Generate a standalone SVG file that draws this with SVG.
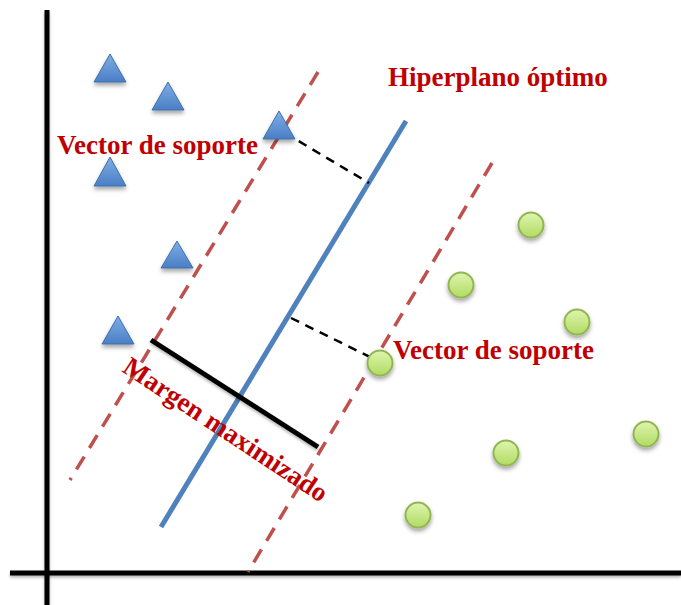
<svg xmlns="http://www.w3.org/2000/svg" width="681" height="605" viewBox="0 0 681 605">
<defs>
<linearGradient id="tri" x1="0" y1="0" x2="0" y2="1">
<stop offset="0" stop-color="#7FAFE6"/>
<stop offset="1" stop-color="#4A7EC4"/>
</linearGradient>
<linearGradient id="cir" x1="0" y1="0" x2="0" y2="1">
<stop offset="0" stop-color="#DDF5AE"/>
<stop offset="1" stop-color="#B2DB63"/>
</linearGradient>
<filter id="sh" x="-30%" y="-30%" width="160%" height="180%">
<feDropShadow dx="0" dy="3" stdDeviation="2" flood-color="#000" flood-opacity="0.35"/>
</filter>
<filter id="lsh" filterUnits="userSpaceOnUse" x="0" y="0" width="681" height="605">
<feDropShadow dx="0" dy="2" stdDeviation="1.5" flood-color="#000" flood-opacity="0.3"/>
</filter>
</defs>
<style>
.tri{fill:url(#tri);stroke:#3F6FAE;stroke-width:1;filter:url(#sh)}
.cir{fill:url(#cir);stroke:#92B552;stroke-width:2;filter:url(#sh)}
.lbl{font-family:"Liberation Serif","Times New Roman",serif;font-weight:bold;font-size:27px;fill:#C00000}
.axis{stroke:#000;stroke-width:5;filter:url(#lsh)}
.rdash{stroke:#C0504D;stroke-width:3.5;stroke-dasharray:15,10;fill:none}
.bdash{stroke:#000;stroke-width:2.5;stroke-dasharray:9,7;fill:none}
</style>
<g id="axes">
<line class="axis" x1="47" y1="10" x2="47" y2="605"/>
<line class="axis" x1="10" y1="573" x2="681" y2="573"/>
</g>
<g id="connectors">
<line class="rdash" x1="318" y1="72" x2="70" y2="480"/>
<line class="rdash" x1="492" y1="163" x2="248" y2="572"/>
<line id="hyperplane" x1="406" y1="121" x2="161" y2="527" stroke="#4F81BD" stroke-width="5"/>
<line class="bdash" x1="285" y1="133" x2="369" y2="183"/>
<line class="bdash" x1="291" y1="318" x2="372" y2="358"/>
<line id="margin" x1="151" y1="340" x2="318" y2="447" stroke="#000" stroke-width="5" filter="url(#lsh)"/>
</g>
<g id="triangles">
<polygon id="t1" class="tri" points="110,54 126,82 94,82"/>
<polygon id="t2" class="tri" points="168,82 184,110 152,110"/>
<polygon id="t3" class="tri" points="279,111 295,139 263,139"/>
<polygon id="t4" class="tri" points="110,157 126,186 94,186"/>
<polygon id="t5" class="tri" points="177,241 193,268 161,268"/>
<polygon id="t6" class="tri" points="118,316 134,344 102,344"/>
</g>
<g id="circles">
<circle id="c1" class="cir" cx="531" cy="225" r="12.5"/>
<circle id="c2" class="cir" cx="461" cy="285" r="12.5"/>
<circle id="c3" class="cir" cx="577" cy="322" r="12.5"/>
<circle id="c4" class="cir" cx="380" cy="363" r="12.5"/>
<circle id="c5" class="cir" cx="646" cy="434" r="12.5"/>
<circle id="c6" class="cir" cx="506" cy="453" r="12.5"/>
<circle id="c7" class="cir" cx="418" cy="515" r="12.5"/>
</g>
<g id="labels">
<text class="lbl" x="388" y="86">Hiperplano óptimo</text>
<text class="lbl" x="57" y="154">Vector de soporte</text>
<text class="lbl" x="393" y="359">Vector de soporte</text>
<text class="lbl" transform="translate(121,371) rotate(33.5)">Margen maximizado</text>
</g>
</svg>
